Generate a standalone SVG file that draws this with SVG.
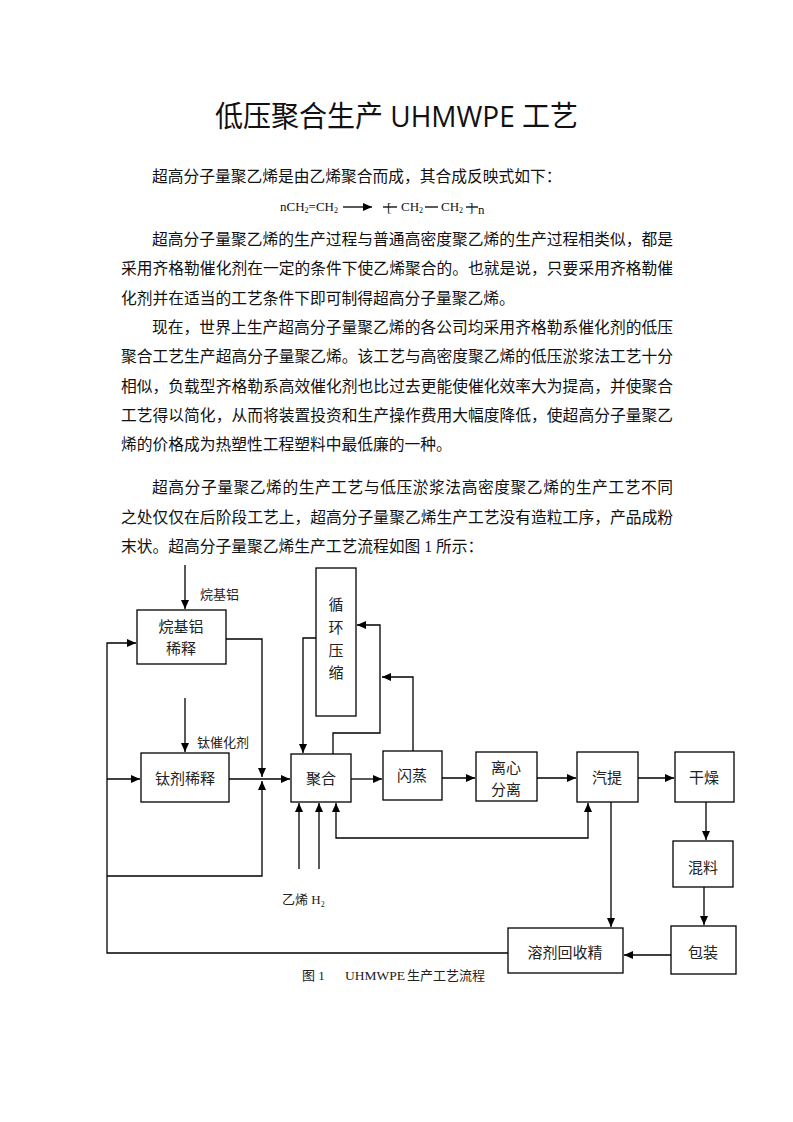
<svg xmlns="http://www.w3.org/2000/svg" width="793" height="1122" viewBox="0 0 793 1122">
<defs>
<style>
.b{font-family:"Liberation Serif","Noto Sans CJK SC",serif;font-size:15.75px;fill:#111}
.t{font-family:"Open Sans","Noto Sans CJK SC",sans-serif;font-size:29px;fill:#111}
.f{font-family:"Liberation Serif",serif;font-size:13px;fill:#111}
.n{fill:#fff;stroke:#000;stroke-width:1.3}
.l{font-family:"Liberation Serif","Noto Sans CJK SC",serif;font-size:15px;fill:#222;text-anchor:middle}
.s{font-family:"Liberation Serif","Noto Sans CJK SC",serif;font-size:13px;fill:#222}
.c{fill:none;stroke:#000;stroke-width:1.3}
</style>
<marker id="ah" markerWidth="9" markerHeight="8" refX="9" refY="4" orient="auto-start-reverse" markerUnits="userSpaceOnUse">
<path d="M0,0 L9,4 L0,8 z" fill="#000"/>
</marker>
</defs>
<rect width="793" height="1122" fill="#fff"/>

<text class="t" x="215" y="127" textLength="363" lengthAdjust="spacingAndGlyphs">低压聚合生产 UHMWPE 工艺</text>

<g id="body">
<text class="b" x="152" y="182">超高分子量聚乙烯是由乙烯聚合而成，其合成反映式如下：</text>
<text class="b" x="152" y="245" textLength="521" lengthAdjust="spacing">超高分子量聚乙烯的生产过程与普通高密度聚乙烯的生产过程相类似，都是</text>
<text class="b" x="121" y="274" textLength="552" lengthAdjust="spacing">采用齐格勒催化剂在一定的条件下使乙烯聚合的。也就是说，只要采用齐格勒催</text>
<text class="b" x="121" y="304">化剂并在适当的工艺条件下即可制得超高分子量聚乙烯。</text>
<text class="b" x="152" y="333" textLength="521" lengthAdjust="spacing">现在，世界上生产超高分子量聚乙烯的各公司均采用齐格勒系催化剂的低压</text>
<text class="b" x="121" y="362" textLength="552" lengthAdjust="spacing">聚合工艺生产超高分子量聚乙烯。该工艺与高密度聚乙烯的低压淤浆法工艺十分</text>
<text class="b" x="121" y="392" textLength="552" lengthAdjust="spacing">相似，负载型齐格勒系高效催化剂也比过去更能使催化效率大为提高，并使聚合</text>
<text class="b" x="121" y="421" textLength="552" lengthAdjust="spacing">工艺得以简化，从而将装置投资和生产操作费用大幅度降低，使超高分子量聚乙</text>
<text class="b" x="121" y="450">烯的价格成为热塑性工程塑料中最低廉的一种。</text>
<text class="b" x="152" y="493" textLength="521" lengthAdjust="spacing">超高分子量聚乙烯的生产工艺与低压淤浆法高密度聚乙烯的生产工艺不同</text>
<text class="b" x="121" y="523" textLength="552" lengthAdjust="spacing">之处仅仅在后阶段工艺上，超高分子量聚乙烯生产工艺没有造粒工序，产品成粉</text>
<text class="b" x="121" y="552">末状。超高分子量聚乙烯生产工艺流程如图 1 所示：</text>
</g>

<g id="formula">
<text class="f" x="280" y="211">nCH<tspan dy="2" font-size="8">2</tspan><tspan dy="-2">=CH</tspan><tspan dy="2" font-size="8">2</tspan></text>
<path class="c" d="M343,207 H372" marker-end="url(#ah)"/>
<path class="c" d="M383,207 H397" stroke-width="1"/>
<text class="f" x="387" y="212">[</text>
<text class="f" x="401" y="211">CH<tspan dy="2" font-size="8">2</tspan></text>
<path class="c" d="M425,207 H438" stroke-width="1"/>
<text class="f" x="441" y="211">CH<tspan dy="2" font-size="8">2</tspan></text>
<path class="c" d="M466,207 H478" stroke-width="1"/>
<text class="f" x="469" y="212">]</text>
<text class="f" x="478" y="214" font-size="7">n</text>
</g>

<g id="connectors">
<path class="c" d="M185,565 V609" marker-end="url(#ah)"/>
<path class="c" d="M185,698 V752" marker-end="url(#ah)"/>
<path class="c" d="M508,953 H107 V643 H136" marker-end="url(#ah)"/>
<path class="c" d="M107,779 H140" marker-end="url(#ah)"/>
<path class="c" d="M107,876 H262 V781" marker-end="url(#ah)"/>
<path class="c" d="M226,639 H262 V777" marker-end="url(#ah)"/>
<path class="c" d="M229,779 H290" marker-end="url(#ah)"/>
<path class="c" d="M316,638 H303 V753" marker-end="url(#ah)"/>
<path class="c" d="M333,754 V733 H380 V625 H357" marker-end="url(#ah)"/>
<path class="c" d="M413,751 V677 H382" marker-end="url(#ah)"/>
<path class="c" d="M351,779 H382" marker-end="url(#ah)"/>
<path class="c" d="M442,778 H475" marker-end="url(#ah)"/>
<path class="c" d="M537,778 H576" marker-end="url(#ah)"/>
<path class="c" d="M638,778 H674" marker-end="url(#ah)"/>
<path class="c" d="M336,803 V838 H588 V803" marker-start="url(#ah)" marker-end="url(#ah)"/>
<path class="c" d="M299,869 V803" marker-end="url(#ah)"/>
<path class="c" d="M319,869 V803" marker-end="url(#ah)"/>
<path class="c" d="M611,802 V927" marker-end="url(#ah)"/>
<path class="c" d="M706,802 V840" marker-end="url(#ah)"/>
<path class="c" d="M704,887 V925" marker-end="url(#ah)"/>
<path class="c" d="M671,955 H624" marker-end="url(#ah)"/>
</g>

<g id="n-alkyl"><rect class="n" x="137" y="610" width="89" height="54"/><text class="l" x="181" y="632">烷基铝</text><text class="l" x="181" y="654">稀释</text></g>
<g id="lbl-alkyl"><text class="s" x="200" y="599">烷基铝</text></g>
<g id="lbl-ti"><text class="s" x="197" y="747">钛催化剂</text></g>
<g id="n-ti"><rect class="n" x="141" y="753" width="88" height="49"/><text class="l" x="185" y="784">钛剂稀释</text></g>
<g id="n-poly"><rect class="n" x="291" y="754" width="60" height="48"/><text class="l" x="321" y="784">聚合</text></g>
<g id="n-recycle"><rect class="n" x="316" y="568" width="40" height="148"/>
<text class="l" x="336" y="610">循</text><text class="l" x="336" y="633">环</text><text class="l" x="336" y="656">压</text><text class="l" x="336" y="678">缩</text></g>
<g id="n-flash"><rect class="n" x="383" y="751" width="59" height="49"/><text class="l" x="412" y="781">闪蒸</text></g>
<g id="n-centri"><rect class="n" x="476" y="752" width="61" height="49"/><text class="l" x="506" y="773">离心</text><text class="l" x="506" y="795">分离</text></g>
<g id="n-strip"><rect class="n" x="577" y="752" width="61" height="50"/><text class="l" x="607" y="783">汽提</text></g>
<g id="n-dry"><rect class="n" x="675" y="752" width="59" height="50"/><text class="l" x="704" y="783">干燥</text></g>
<g id="n-mix"><rect class="n" x="673" y="841" width="60" height="46"/><text class="l" x="703" y="873">混料</text></g>
<g id="n-pack"><rect class="n" x="671" y="926" width="65" height="48"/><text class="l" x="703" y="958">包装</text></g>
<g id="n-solvent"><rect class="n" x="508" y="928" width="115" height="45"/><text class="l" x="565" y="958">溶剂回收精</text></g>
<g id="lbl-feed"><text class="s" x="282" y="904">乙烯 H<tspan dy="3" font-size="8">2</tspan></text></g>
<g id="caption"><text class="s" y="980" font-size="14.5"><tspan x="302">图 1</tspan><tspan x="345" font-size="13.5">UHMWPE</tspan><tspan x="407">生产工艺流程</tspan></text></g>
</svg>
